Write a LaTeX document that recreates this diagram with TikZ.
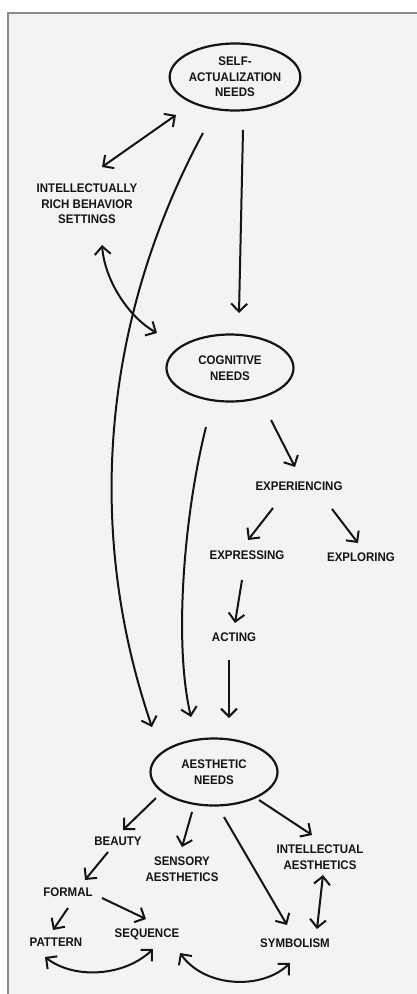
\documentclass[tikz,border=0pt]{standalone}
\usepackage{fontspec}
\setmainfont{Liberation Sans}[FakeStretch=0.92]
\usetikzlibrary{arrows.meta,shapes.geometric}
\definecolor{ink}{HTML}{141414}
\definecolor{paper}{HTML}{F3F3F3}
\definecolor{rule}{HTML}{8A8A8A}
\begin{document}
\begin{tikzpicture}[x=1pt,y=-1pt,
  lbl/.style={font=\bfseries\fontsize{12.5}{15.5}\selectfont, text=ink, align=center, inner sep=1pt},
  need/.style={lbl, ellipse, draw=ink, line width=2.2pt, minimum width=127, minimum height=67, inner sep=0pt},
  tip/.tip={Straight Barb[length=8pt,width=16pt,line width=2pt]},
  link/.style={draw=ink, line width=2pt, -tip},
  both/.style={link, tip-tip}]
  % page and frame
  \useasboundingbox (0,0) rectangle (417,994);
  \fill[white] (0,0) rectangle (417,994);
  \fill[paper] (8,13) rectangle (417,994);
  \draw[rule, line width=1.5pt] (417,13) -- (8,13) -- (8,994);

  % needs
  \node[need] (sa) at (235,77) {SELF-\\ACTUALIZATION\\NEEDS};
  \node[need] (cog) at (230,368) {COGNITIVE\\NEEDS};
  \node[need] (aes) at (214,772) {AESTHETIC\\NEEDS};

  % labels
  \node[lbl] (irb) at (87,204) {INTELLECTUALLY\\RICH BEHAVIOR\\SETTINGS};
  \node[lbl] (exper) at (299,486) {EXPERIENCING};
  \node[lbl] (expr) at (247,555) {EXPRESSING};
  \node[lbl] (explo) at (361,557) {EXPLORING};
  \node[lbl] (act) at (234,637) {ACTING};
  \node[lbl] (beauty) at (118,841) {BEAUTY};
  \node[lbl] (sensory) at (182,869) {SENSORY\\AESTHETICS};
  \node[lbl] (intaes) at (320,857) {INTELLECTUAL\\AESTHETICS};
  \node[lbl] (symb) at (295,943) {SYMBOLISM};
  \node[lbl] (formal) at (68,892) {FORMAL};
  \node[lbl] (pattern) at (56,942) {PATTERN};
  \node[lbl] (seq) at (147,934) {SEQUENCE};

  % upper part
  \draw[both] ([shift={(15,-37)}]irb.center) -- ([shift={(-59,38)}]sa.center);
  \draw[link] ([shift={(8,53)}]sa.center) -- ([shift={(9,-55)}]cog.center);
  \draw[link] ([shift={(-32,56)}]sa.center)
    .. controls (106,313) and (82,522) .. ([shift={(-62,-45)}]aes.center);
  \draw[both] ([shift={(15,41)}]irb.center)
    .. controls (105,282) and (130,318) .. ([shift={(-73,-35)}]cog.center);

  % cognitive branch
  \draw[link] ([shift={(-24,59)}]cog.center)
    .. controls (185,510) and (173,640) .. ([shift={(-23,-55)}]aes.center);
  \draw[link] ([shift={(41,52)}]cog.center) -- ([shift={(-4,-19)}]exper.center);
  \draw[link] ([shift={(-26,22)}]exper.center) -- ([shift={(1,-15)}]expr.center);
  \draw[link] ([shift={(33,23)}]exper.center) -- ([shift={(-3,-14)}]explo.center);
  \draw[link] ([shift={(-5,25)}]expr.center) -- ([shift={(1,-14)}]act.center);
  \draw[link] ([shift={(-5,23)}]act.center) -- ([shift={(15,-54)}]aes.center);

  % aesthetic branch
  \draw[link] ([shift={(-58,26)}]aes.center) -- ([shift={(5,-11)}]beauty.center);
  \draw[link] ([shift={(-22,40)}]aes.center) -- ([shift={(0,-22)}]sensory.center);
  \draw[link] ([shift={(10,45)}]aes.center) -- ([shift={(-8,-18)}]symb.center);
  \draw[link] ([shift={(45,28)}]aes.center) -- ([shift={(-8,-22)}]intaes.center);
  \draw[both] ([shift={(3,18)}]intaes.center) -- ([shift={(22,-14)}]symb.center);
  \draw[link] ([shift={(-10,11)}]beauty.center) -- ([shift={(17,-12)}]formal.center);
  \draw[link] ([shift={(0,16)}]formal.center) -- ([shift={(-3,-12)}]pattern.center);
  \draw[link] ([shift={(34,6)}]formal.center) -- ([shift={(-1,-15)}]seq.center);
  \draw[both] ([shift={(-11,15)}]pattern.center)
    .. controls (75,980) and (125,976) .. ([shift={(6,15)}]seq.center);
  \draw[both] ([shift={(33,19)}]seq.center)
    .. controls (205,988) and (262,990) .. ([shift={(-5,20)}]symb.center);
\end{tikzpicture}
\end{document}
